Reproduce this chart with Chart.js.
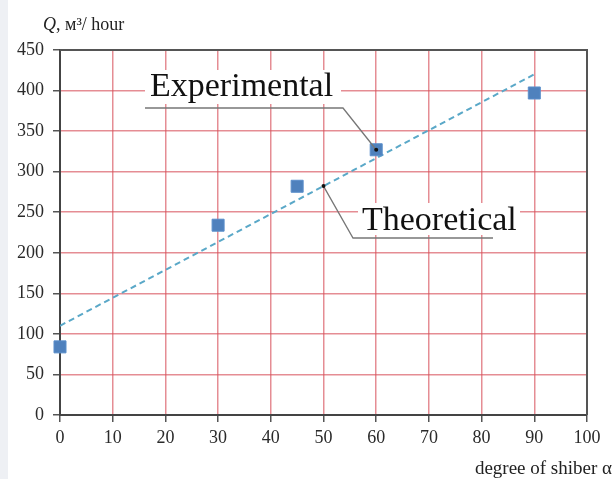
<!DOCTYPE html>
<html>
<head>
<meta charset="utf-8">
<script src="https://cdn.jsdelivr.net/npm/chart.js@4.4.1/dist/chart.umd.min.js"></script>
<style>
html, body { margin: 0; padding: 0; }
body { background: linear-gradient(to right, #eef0f4 0, #eef0f4 8px, #fff 8px); }
#wrap { width: 616px; height: 479px; }
</style>
</head>
<body>
<div id="wrap"><canvas id="mycanvas"></canvas></div>
<script>
// measured points
var angles = [0, 30, 45, 60, 90];
var flowExp = [84, 234, 282, 327, 397];
// theoretical (trend) line end points
var theoAngles = [0, 90];
var theoFlow = [110, 420];

var serif = '"Liberation Serif", "DejaVu Serif", serif';

var expData = [];
for (var i in angles) {
	expData.push({x: angles[i], y: flowExp[i]});
}
var theoData = [];
for (var j in theoAngles) {
	theoData.push({x: theoAngles[j], y: theoFlow[j]});
}

function theoAt(a) {
	return theoFlow[0] + (theoFlow[1] - theoFlow[0]) * (a - theoAngles[0]) / (theoAngles[1] - theoAngles[0]);
}

var extras = {
	id: 'extras',
	beforeDatasetsDraw: function(chart) {
		var ctx = chart.ctx;
		var a = chart.chartArea;
		ctx.save();
		// frame top / right
		ctx.strokeStyle = '#555';
		ctx.lineWidth = 2;
		ctx.beginPath();
		ctx.moveTo(a.left, a.top);
		ctx.lineTo(a.right, a.top);
		ctx.lineTo(a.right, a.bottom);
		ctx.stroke();
		ctx.restore();
	},
	afterDatasetsDraw: function(chart) {
		var ctx = chart.ctx;
		var sx = chart.scales.x, sy = chart.scales.y;
		ctx.save();

		// label boxes
		ctx.fillStyle = '#fff';
		ctx.fillRect(145, 70, 196, 34);
		ctx.fillRect(358, 203, 162, 32);

		ctx.fillStyle = '#111';
		ctx.font = '34px ' + serif;
		ctx.textBaseline = 'alphabetic';
		ctx.textAlign = 'left';
		ctx.fillText('Experimental', 150, 96);
		ctx.fillText('Theoretical', 362, 230);

		// leader lines
		var ex = sx.getPixelForValue(60), ey = sy.getPixelForValue(flowExp[3]);
		var tx = sx.getPixelForValue(50), ty = sy.getPixelForValue(theoAt(50));
		ctx.strokeStyle = '#777';
		ctx.lineWidth = 1.3;
		ctx.beginPath();
		ctx.moveTo(145, 108);
		ctx.lineTo(343, 108);
		ctx.lineTo(ex, ey);
		ctx.stroke();
		ctx.beginPath();
		ctx.moveTo(tx, ty);
		ctx.lineTo(353, 238);
		ctx.lineTo(493, 238);
		ctx.stroke();
		ctx.fillStyle = '#111';
		ctx.beginPath(); ctx.arc(ex, ey, 2, 0, Math.PI * 2); ctx.fill();
		ctx.beginPath(); ctx.arc(tx, ty, 2, 0, Math.PI * 2); ctx.fill();

		// axis titles
		ctx.fillStyle = '#222';
		ctx.font = 'italic 18px ' + serif;
		ctx.fillText('Q', 43, 30);
		var qw = ctx.measureText('Q').width;
		ctx.font = '18px ' + serif;
		ctx.fillText(', м³/ hour', 43 + qw, 30);
		ctx.font = '19px ' + serif;
		ctx.textAlign = 'right';
		ctx.fillText('degree of shiber α', 612, 474);
		ctx.restore();
	}
};

var ctx = document.getElementById('mycanvas');

var chart = new Chart(ctx, {
	type: 'scatter',
	data: {
		datasets: [
			{
				label: 'Experimental',
				data: expData,
				pointStyle: 'rect',
				pointRadius: 8.5,
				backgroundColor: '#4f81bd',
				borderColor: '#5b8fcb',
				borderWidth: 1,
				clip: false,
				order: 0
			},
			{
				label: 'Theoretical',
				data: theoData,
				showLine: true,
				pointRadius: 0,
				borderColor: '#5aa8c8',
				borderWidth: 2,
				borderDash: [6, 4],
				fill: false,
				order: 1
			}
		]
	},
	options: {
		responsive: true,
		maintainAspectRatio: false,
		animation: false,
		layout: { padding: { left: 0, right: 29, top: 50, bottom: 0 } },
		plugins: {
			legend: { display: false },
			tooltip: { enabled: false }
		},
		scales: {
			x: {
				type: 'linear',
				min: 0,
				max: 100,
				ticks: { stepSize: 10, color: '#2a2a2a', padding: 5, font: { family: serif, size: 18 } },
				grid: { color: 'rgba(215,80,90,0.65)', lineWidth: 1.5, tickLength: 7, tickColor: '#555' },
				border: { color: '#444', width: 2 },
				afterFit: function(s) { s.height = 64; }
			},
			y: {
				min: 0,
				max: 450,
				ticks: { stepSize: 50, color: '#2a2a2a', padding: 9, font: { family: serif, size: 18 } },
				grid: { color: 'rgba(215,80,90,0.65)', lineWidth: 1.5, tickLength: 7, tickColor: '#555' },
				border: { color: '#444', width: 2 },
				afterFit: function(s) { s.width = 60; }
			}
		}
	},
	plugins: [extras]
});
</script>
</body>
</html>
